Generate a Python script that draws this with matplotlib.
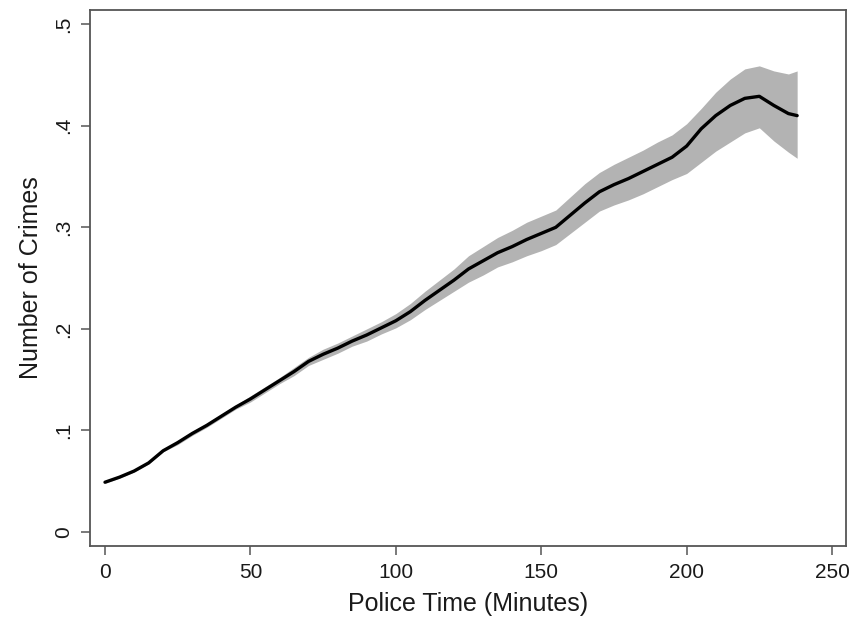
import matplotlib
matplotlib.use("Agg")
import matplotlib.pyplot as plt

# ---- data ----
police_time = [0, 5, 10, 15, 20, 25, 30, 35, 40, 45, 50, 55, 60, 65, 70, 75, 80,
               85, 90, 95, 100, 105, 110, 115, 120, 125, 130, 135, 140, 145, 150,
               155, 160, 165, 170, 175, 180, 185, 190, 195, 200, 205, 210, 215,
               220, 225, 230, 235, 238]
crimes = [0.049, 0.054, 0.060, 0.068, 0.080, 0.088, 0.097, 0.105, 0.114, 0.123,
          0.131, 0.140, 0.149, 0.158, 0.168, 0.175, 0.181, 0.188, 0.194, 0.201,
          0.208, 0.217, 0.228, 0.238, 0.248, 0.259, 0.267, 0.275, 0.281, 0.288,
          0.294, 0.300, 0.312, 0.324, 0.335, 0.342, 0.348, 0.355, 0.362, 0.369,
          0.380, 0.397, 0.410, 0.420, 0.427, 0.429, 0.420, 0.412, 0.410]
ci_upper = [0.050, 0.055, 0.061, 0.069, 0.081, 0.090, 0.099, 0.107, 0.116, 0.125,
            0.134, 0.143, 0.152, 0.162, 0.172, 0.180, 0.186, 0.193, 0.200, 0.207,
            0.215, 0.225, 0.237, 0.248, 0.259, 0.272, 0.281, 0.290, 0.297, 0.305,
            0.311, 0.317, 0.330, 0.343, 0.354, 0.362, 0.369, 0.376, 0.384, 0.391,
            0.402, 0.417, 0.433, 0.446, 0.456, 0.459, 0.454, 0.451, 0.454]
ci_lower = [0.048, 0.053, 0.059, 0.067, 0.079, 0.086, 0.095, 0.103, 0.112, 0.121,
            0.128, 0.137, 0.146, 0.154, 0.164, 0.170, 0.176, 0.183, 0.188, 0.195,
            0.201, 0.209, 0.219, 0.228, 0.237, 0.246, 0.253, 0.261, 0.266, 0.272,
            0.277, 0.283, 0.294, 0.305, 0.316, 0.322, 0.327, 0.333, 0.340, 0.347,
            0.353, 0.364, 0.375, 0.384, 0.393, 0.398, 0.385, 0.374, 0.368]

x_ticks = [0, 50, 100, 150, 200, 250]
x_tick_labels = ["0", "50", "100", "150", "200", "250"]
y_ticks = [0, 0.1, 0.2, 0.3, 0.4, 0.5]
y_tick_labels = ["0", ".1", ".2", ".3", ".4", ".5"]

plt.rcParams['font.family'] = ['Liberation Sans', 'DejaVu Sans']

fig = plt.figure(figsize=(8.52, 6.18), dpi=100)
ax = fig.add_axes([90 / 852, 1 - 546 / 618, 756 / 852, 536 / 618])

ax.fill_between(police_time, ci_lower, ci_upper, color="#b3b3b3", linewidth=0)
ax.plot(police_time, crimes, color="black", linewidth=2.4,
        solid_capstyle="round", solid_joinstyle="round")

ax.set_xlim(-5.16, 254.8)
ax.set_ylim(-0.0138, 0.514)

ax.set_xticks(x_ticks)
ax.set_xticklabels(x_tick_labels)
ax.set_yticks(y_ticks)
ax.set_yticklabels(y_tick_labels)

spine_col = "#555555"
for s in ax.spines.values():
    s.set_color(spine_col)
    s.set_linewidth(1.3)

ax.tick_params(axis="both", direction="out", length=6.5, width=1.1,
               color=spine_col, labelsize=15, labelcolor="#1a1a1a")
ax.tick_params(axis="x", pad=6)
ax.tick_params(axis="y", pad=6)
for lab in ax.get_yticklabels():
    lab.set_rotation(90)
    lab.set_va("center")
    lab.set_ha("right")

ax.set_xlabel("Police Time (Minutes)", fontsize=18, color="#1a1a1a", labelpad=7)
ax.set_ylabel("Number of Crimes", fontsize=18, color="#1a1a1a", labelpad=8)

fig.savefig("out.png", dpi=100)
